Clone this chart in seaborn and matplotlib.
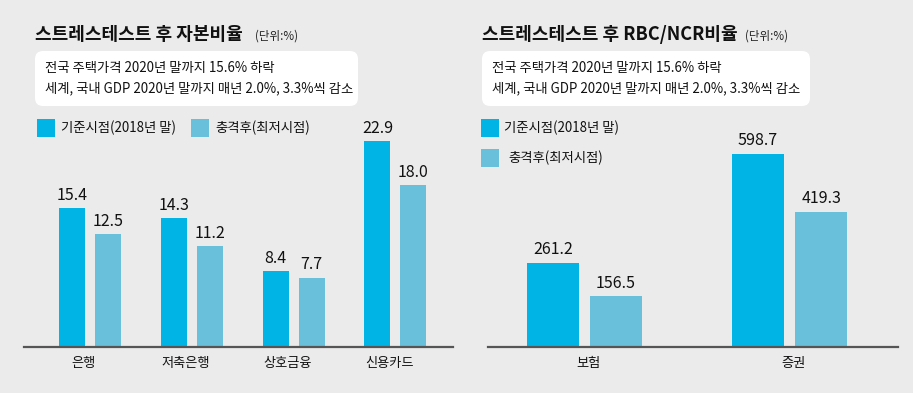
import matplotlib
matplotlib.use('Agg')
import matplotlib.pyplot as plt
import matplotlib.transforms as mtransforms
from matplotlib.patches import FancyBboxPatch, Rectangle
import pandas as pd
import seaborn as sns

# Data
bank_cats = ['은행', '저축은행', '상호금융', '신용카드']
bank_before = [15.4, 14.3, 8.4, 22.9]
bank_after = [12.5, 11.2, 7.7, 18.0]

ins_cats = ['보험', '증권']
ins_before = [261.2, 598.7]
ins_after = [156.5, 419.3]

series = ['기준시점(2018년 말)', '충격후(최저시점)']
note_lines = ['전국 주택가격 2020년 말까지 15.6% 하락',
              '세계, 국내 GDP 2020년 말까지 매년 2.0%, 3.3%씩 감소']

BLUE = '#00b5e5'
LIGHT = '#68c0da'
BG = '#ebebeb'

sns.set_style('white')
plt.rcParams['font.family'] = ['Noto Sans CJK KR', 'DejaVu Sans']

W, H = 913, 393
fig = plt.figure(figsize=(W / 100, H / 100), dpi=100, facecolor=BG)
ident = mtransforms.IdentityTransform()


def fx(x):
  return x / W


def fy(y):
  return 1 - y / H


def make_df(cats, before, after):
  return pd.DataFrame({
    'cat': cats * 2,
    'value': before + after,
    'series': [series[0]] * len(cats) + [series[1]] * len(cats),
  })


def draw_panel(rect, df, width, gap, xlim, ylim, label_dx):
  ax = fig.add_axes(rect)
  ax.set_facecolor(BG)
  sns.barplot(data=df, x='cat', y='value', hue='series', palette=[BLUE, LIGHT],
              width=width, gap=gap, saturation=1, legend=False, linewidth=0, ax=ax)
  for c in ax.containers:
    ax.bar_label(c, fmt='%.1f', padding=3, fontsize=11.5, color='#111111')
  ax.set_xlim(*xlim)
  ax.set_ylim(*ylim)
  ax.set_xlabel('')
  ax.set_ylabel('')
  ax.set_yticks([])
  ax.tick_params(axis='x', length=0, pad=7, labelsize=9.5, labelcolor='#111111')
  for s in ['top', 'left', 'right']:
    ax.spines[s].set_visible(False)
  ax.spines['bottom'].set_color('#555555')
  ax.spines['bottom'].set_linewidth(1.6)
  off = mtransforms.ScaledTranslation(label_dx / 72, 0, fig.dpi_scale_trans)
  for lab in ax.get_xticklabels():
    lab.set_transform(lab.get_transform() + off)
  return ax


def header(x, title, unit_x, box_w):
  fig.text(fx(x), fy(34), title, fontsize=13, fontweight='bold', va='center', color='#111111')
  fig.text(fx(unit_x), fy(36), '(단위:%)', fontsize=8.3, va='center', color='#222222')
  box = FancyBboxPatch((x, H - 106), box_w, 55, boxstyle='round,pad=0,rounding_size=8',
                       facecolor='white', edgecolor='none', transform=ident)
  fig.patches.append(box)
  fig.text(fx(x + 10), fy(68), note_lines[0], fontsize=9.6, va='center', color='#111111')
  fig.text(fx(x + 10), fy(88), note_lines[1], fontsize=9.6, va='center', color='#111111')


def legend_item(x, y, color, text, tx):
  fig.patches.append(Rectangle((x, H - y - 18), 18, 18, facecolor=color,
                               edgecolor='none', transform=ident))
  fig.text(fx(tx), fy(y + 9), text, fontsize=9.6, va='center', color='#111111')


# Left panel: capital ratio
header(35, '스트레스테스트 후 자본비율', 255, 323)
legend_item(37, 119, BLUE, series[0], 61)
legend_item(191, 119, LIGHT, series[1], 215)
left_scale = 9.01
draw_panel([fx(24), (H - 347) / H, 429 / W, 25 * left_scale / H],
           make_df(bank_cats, bank_before, bank_after),
           width=0.707, gap=0.28, xlim=(-0.648, 3.566), ylim=(0, 25), label_dx=-4.5)

# Right panel: RBC/NCR ratio
header(482, '스트레스테스트 후 RBC/NCR비율', 745, 328)
legend_item(481, 119, BLUE, series[0], 504)
legend_item(481, 149, LIGHT, series[1], 508)
right_scale = 0.323
draw_panel([fx(488), (H - 347) / H, 410 / W, 650 * right_scale / H],
           make_df(ins_cats, ins_before, ins_after),
           width=0.615, gap=0.175, xlim=(-0.471, 1.529), ylim=(0, 650), label_dx=3)

fig.savefig('out.png', dpi=100, facecolor=BG)
